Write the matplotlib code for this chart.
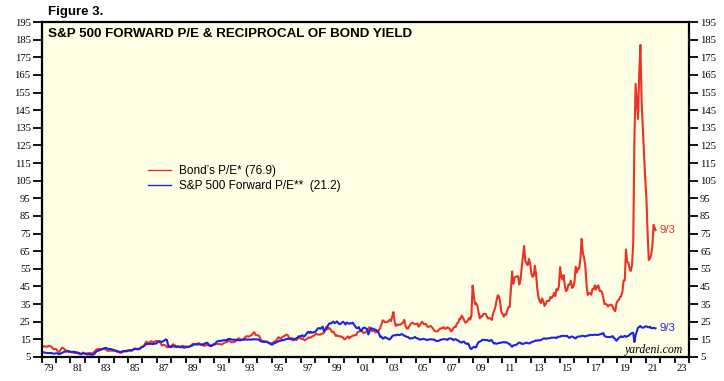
import matplotlib
matplotlib.use('Agg')
import matplotlib.pyplot as plt
import matplotlib.dates as mdates
import matplotlib.ticker as mticker
import pandas as pd
from datetime import datetime

# ---------------- data (monthly, Jan 1979 .. Aug 2021, plus 9/3/2021) ----------------
bond_pe = [
    11.0, 11.0, 11.0, 10.9, 10.8, 11.2, 11.2, 11.1, 10.7, 9.7, 9.4, 9.6,      # 1979
    9.3, 8.1, 7.6, 8.7, 9.8, 10.3, 9.8, 9.0, 8.7, 8.5, 7.9, 7.8,              # 1980
    8.0, 7.6, 7.6, 7.3, 7.1, 7.4, 7.0, 6.7, 6.5, 6.6, 7.5, 7.3,               # 1981
    6.9, 6.9, 7.2, 7.2, 7.3, 7.0, 7.2, 7.7, 8.1, 9.2, 9.5, 9.5,               # 1982
    9.6, 9.3, 9.5, 9.6, 9.6, 9.2, 8.8, 8.4, 8.6, 8.7, 8.6, 8.5,               # 1983
    8.6, 8.4, 8.1, 7.9, 7.5, 7.4, 7.5, 7.9, 8.0, 8.2, 8.6, 8.7,               # 1984
    8.8, 8.7, 8.4, 8.7, 9.2, 9.8, 9.7, 9.7, 9.6, 9.8, 10.2, 10.8,             # 1985
    10.9, 11.5, 12.9, 13.7, 13.0, 12.8, 13.7, 13.9, 13.4, 13.5, 13.8, 14.1,   # 1986
    14.1, 13.8, 13.8, 12.5, 11.6, 11.9, 11.8, 11.4, 10.6, 10.5, 11.3, 11.1,   # 1987
    11.5, 12.2, 11.9, 11.5, 11.0, 11.2, 11.0, 10.8, 11.1, 11.4, 11.2, 11.0,   # 1988
    11.0, 10.9, 10.7, 10.9, 11.3, 12.1, 12.5, 12.3, 12.2, 12.5, 12.7, 12.8,   # 1989
    12.2, 11.8, 11.6, 11.4, 11.4, 11.8, 11.8, 11.4, 11.2, 11.5, 11.9, 12.4,   # 1990
    12.4, 12.7, 12.3, 12.4, 12.4, 12.1, 12.1, 12.7, 13.1, 13.3, 13.5, 14.1,   # 1991
    14.2, 13.6, 13.3, 13.4, 13.5, 13.8, 14.6, 15.2, 15.6, 15.2, 14.6, 14.8,   # 1992
    15.2, 16.0, 16.7, 16.8, 16.6, 16.8, 17.2, 17.6, 18.7, 19.0, 17.5, 17.3,   # 1993
    17.4, 16.8, 15.4, 14.3, 13.9, 14.1, 13.7, 13.8, 13.4, 12.9, 12.6, 12.8,   # 1994
    12.9, 13.4, 13.9, 14.2, 15.1, 16.2, 15.9, 15.4, 16.1, 16.6, 16.9, 17.5,   # 1995
    17.7, 17.2, 15.9, 15.4, 14.8, 14.5, 14.6, 15.1, 14.6, 15.3, 16.1, 15.9,   # 1996
    15.2, 15.6, 14.9, 14.5, 14.9, 15.4, 16.1, 15.9, 16.1, 16.6, 17.0, 17.2,   # 1997
    18.1, 18.0, 17.7, 17.7, 17.7, 18.2, 18.3, 18.7, 20.8, 22.1, 20.7, 21.5,   # 1998
    21.2, 20.0, 19.1, 19.3, 18.1, 16.9, 17.3, 16.8, 16.9, 16.4, 16.6, 15.9,   # 1999
    15.0, 15.3, 16.0, 16.7, 15.5, 16.4, 16.5, 17.2, 17.2, 17.4, 17.5, 19.1,   # 2000
    19.4, 19.6, 20.4, 19.5, 18.6, 18.9, 19.1, 20.1, 21.1, 21.9, 21.5, 19.6,   # 2001
    19.8, 20.4, 18.9, 19.2, 19.4, 20.3, 21.5, 23.5, 25.8, 25.4, 24.7, 24.8,   # 2002
    24.7, 25.6, 26.2, 25.3, 28.0, 30.5, 25.1, 22.5, 23.4, 23.3, 23.3, 23.4,   # 2003
    24.1, 24.5, 26.1, 23.0, 21.2, 21.1, 22.2, 23.4, 24.2, 24.4, 23.9, 23.6,   # 2004
    23.7, 24.0, 22.2, 23.0, 24.2, 25.0, 23.9, 23.5, 23.8, 22.4, 22.0, 22.4,   # 2005
    22.6, 21.9, 21.2, 20.0, 19.6, 19.6, 19.6, 20.5, 21.2, 21.1, 21.7, 21.9,   # 2006
    21.0, 21.2, 21.9, 21.3, 21.1, 19.6, 20.0, 21.4, 22.1, 22.1, 24.1, 24.4,   # 2007
    26.7, 26.7, 28.5, 27.2, 25.8, 24.4, 24.9, 25.7, 27.1, 26.2, 28.3, 45.5,   # 2008
    39.7, 34.8, 35.5, 34.1, 30.4, 26.9, 28.1, 27.9, 29.4, 29.5, 29.4, 27.9,   # 2009
    26.8, 27.1, 26.8, 26.0, 29.2, 31.3, 33.2, 37.0, 40.0, 39.4, 36.2, 30.4,   # 2010
    29.5, 27.9, 29.3, 28.9, 31.5, 33.3, 33.3, 43.5, 53.5, 46.5, 49.8, 50.5,   # 2011
    50.8, 50.8, 46.1, 48.8, 55.6, 61.7, 68.0, 59.5, 58.1, 57.1, 60.6, 58.1,   # 2012
    52.4, 50.5, 51.0, 56.8, 51.8, 43.5, 38.8, 36.5, 35.6, 38.2, 36.8, 34.0,   # 2013
    35.0, 36.9, 36.8, 36.9, 39.1, 38.5, 39.4, 41.3, 39.5, 43.5, 42.9, 45.2,   # 2014
    56.0, 50.5, 49.0, 51.5, 45.5, 42.4, 43.1, 46.1, 46.1, 48.3, 44.2, 44.6,   # 2015
    47.8, 56.2, 52.9, 55.2, 55.2, 61.0, 72.0, 64.1, 61.3, 56.8, 46.7, 40.2,   # 2016
    41.2, 41.3, 40.3, 43.5, 43.5, 45.7, 43.1, 45.2, 45.5, 42.4, 42.6, 41.7,   # 2017
    38.8, 35.0, 35.2, 34.8, 33.6, 34.4, 34.6, 34.6, 33.3, 31.7, 31.0, 35.3,   # 2018
    36.9, 37.3, 38.9, 39.5, 41.7, 48.3, 48.5, 66.0, 58.8, 58.5, 55.2, 53.8,   # 2019
    57.0, 70.0, 127.0, 160.0, 150.0, 140.0, 165.0, 182.0, 150.0, 135.0, 120.0, 106.0,  # 2020
    95.0, 75.0, 60.0, 61.0, 63.0, 68.0, 80.0, 78.0, 76.9,                      # 2021
]

spx_fwd_pe = [
    7.8, 7.6, 7.5, 7.4, 7.3, 7.3, 7.2, 7.3, 7.2, 6.9, 7.0, 7.0,               # 1979
    7.1, 7.0, 6.6, 6.8, 7.2, 7.5, 7.9, 8.0, 8.1, 8.2, 8.4, 8.0,               # 1980
    7.9, 7.8, 8.0, 7.9, 7.7, 7.6, 7.4, 7.2, 6.8, 6.9, 7.1, 7.0,               # 1981
    6.8, 6.6, 6.4, 6.6, 6.5, 6.3, 6.3, 6.5, 7.2, 8.0, 8.5, 8.6,               # 1982
    8.9, 9.2, 9.4, 9.8, 10.0, 10.2, 9.9, 9.6, 9.6, 9.5, 9.3, 9.1,             # 1983
    9.0, 8.6, 8.5, 8.3, 8.0, 7.9, 7.8, 8.3, 8.4, 8.4, 8.3, 8.3,               # 1984
    8.6, 8.9, 8.8, 8.9, 9.2, 9.5, 9.6, 9.4, 9.3, 9.5, 10.0, 10.6,             # 1985
    10.8, 11.3, 12.0, 12.4, 12.3, 12.6, 12.3, 12.6, 12.3, 12.4, 12.6, 12.6,   # 1986
    13.2, 13.8, 14.0, 13.6, 13.6, 14.0, 14.4, 15.0, 14.6, 11.8, 10.8, 10.6,   # 1987
    10.8, 11.0, 11.0, 10.9, 10.6, 10.9, 10.8, 10.5, 10.6, 10.6, 10.3, 10.4,   # 1988
    10.5, 10.6, 10.7, 11.0, 11.3, 11.4, 11.9, 12.2, 12.2, 12.1, 12.1, 12.4,   # 1989
    12.0, 12.0, 12.3, 12.1, 12.9, 13.0, 13.0, 12.0, 11.5, 11.2, 11.6, 11.9,   # 1990
    12.1, 13.4, 13.8, 14.0, 14.2, 14.0, 14.4, 14.5, 14.5, 14.6, 14.2, 15.2,   # 1991
    15.3, 15.2, 14.8, 14.8, 14.9, 14.5, 14.8, 14.5, 14.6, 14.4, 14.7, 14.8,   # 1992
    14.8, 14.9, 15.1, 14.8, 14.9, 14.9, 14.8, 15.0, 15.0, 15.1, 15.0, 15.0,   # 1993
    15.0, 14.6, 14.0, 13.8, 13.7, 13.5, 13.6, 13.7, 13.4, 13.1, 12.6, 12.2,   # 1994
    12.0, 12.6, 13.0, 13.2, 13.6, 13.8, 14.3, 14.2, 14.6, 14.5, 14.8, 15.0,   # 1995
    15.2, 15.3, 15.3, 15.3, 15.6, 15.5, 14.9, 15.2, 15.7, 16.0, 16.8, 16.6,   # 1996
    17.0, 17.3, 16.6, 16.8, 17.8, 18.6, 19.4, 18.6, 19.3, 18.7, 19.0, 19.2,   # 1997
    19.3, 20.5, 21.2, 21.4, 21.0, 21.6, 22.2, 19.5, 20.0, 21.2, 22.5, 23.6,   # 1998
    24.2, 24.0, 24.6, 25.0, 24.2, 24.6, 25.2, 24.2, 23.6, 23.8, 24.6, 25.0,   # 1999
    24.3, 23.4, 24.6, 24.3, 23.8, 24.2, 24.0, 24.5, 23.5, 22.6, 21.5, 21.3,   # 2000
    22.0, 20.6, 19.6, 20.7, 21.6, 21.6, 21.2, 20.8, 17.8, 19.6, 21.0, 21.2,   # 2001
    21.0, 20.5, 20.6, 20.1, 19.5, 18.3, 16.3, 16.6, 15.4, 15.6, 16.3, 15.8,   # 2002
    15.6, 15.0, 15.0, 15.8, 16.8, 17.2, 17.4, 17.2, 17.7, 17.6, 17.4, 17.7,   # 2003
    18.0, 17.6, 17.0, 16.9, 16.4, 16.4, 15.8, 15.4, 15.7, 15.6, 16.0, 16.4,   # 2004
    15.7, 15.6, 15.2, 14.8, 15.1, 15.0, 15.4, 15.0, 15.0, 14.5, 14.9, 14.9,   # 2005
    15.1, 15.0, 14.9, 14.9, 14.3, 14.1, 14.0, 14.3, 14.6, 14.9, 15.0, 15.1,   # 2006
    15.1, 15.0, 14.7, 15.3, 15.6, 15.4, 15.3, 14.5, 15.0, 15.1, 14.5, 14.5,   # 2007
    13.7, 13.4, 13.1, 13.7, 13.7, 12.7, 12.5, 12.8, 11.8, 9.9, 9.5, 10.3,     # 2008
    10.8, 10.4, 10.5, 12.3, 13.4, 13.8, 14.0, 14.7, 14.8, 14.6, 14.6, 14.6,   # 2009
    14.3, 14.0, 14.5, 14.6, 13.4, 12.6, 12.8, 12.5, 12.7, 13.0, 13.0, 13.2,   # 2010
    13.3, 13.5, 13.2, 13.4, 13.1, 12.5, 12.4, 11.4, 10.8, 11.6, 11.7, 11.8,   # 2011
    12.2, 12.8, 13.2, 13.0, 12.4, 12.5, 12.6, 12.9, 13.2, 12.9, 12.7, 12.9,   # 2012
    13.4, 13.5, 13.9, 14.0, 14.5, 14.2, 14.6, 14.3, 14.6, 15.0, 15.4, 15.6,   # 2013
    15.3, 15.5, 15.6, 15.6, 15.8, 16.0, 15.9, 16.0, 16.0, 15.7, 16.4, 16.5,   # 2014
    16.5, 17.0, 16.9, 17.0, 17.0, 16.8, 17.0, 16.2, 15.8, 16.5, 16.6, 16.4,   # 2015
    15.8, 15.5, 16.3, 16.6, 16.6, 16.7, 17.0, 17.0, 16.9, 16.6, 16.9, 17.2,   # 2016
    17.2, 17.6, 17.5, 17.4, 17.6, 17.6, 17.6, 17.5, 17.6, 17.8, 18.0, 18.2,   # 2017
    18.6, 17.0, 16.6, 16.4, 16.3, 16.3, 16.3, 16.6, 16.8, 15.7, 15.2, 14.2,   # 2018
    15.0, 15.8, 16.3, 16.8, 16.2, 16.6, 17.0, 16.4, 16.8, 16.9, 17.7, 18.2,   # 2019
    18.6, 18.7, 13.5, 17.3, 19.5, 21.6, 22.0, 22.6, 21.8, 21.6, 21.8, 22.3,   # 2020
    22.4, 22.0, 21.8, 22.2, 21.3, 21.4, 21.5, 21.4, 21.2,                      # 2021
]

first_month = '1979-01-01'
last_date = '2021-09-03'
last_label = '9/3'
bond_label = 'Bond\u2019s P/E* (76.9)'
spx_label = 'S&P 500 Forward P/E**  (21.2)'
title = 'S&P 500 FORWARD P/E & RECIPROCAL OF BOND YIELD'
fig_label = 'Figure 3.'
source = 'yardeni.com'
y_ticks = list(range(5, 196, 10))
label_years = list(range(1979, 2024, 2))

RED = '#EC3226'
BLUE = '#1C22E8'
BG = '#FFFFE6'

# ---------------- figure ----------------
dates = pd.date_range(first_month, periods=len(bond_pe) - 1, freq='MS') + pd.Timedelta(days=14)
dates = dates.append(pd.DatetimeIndex([last_date]))

fig = plt.figure(figsize=(7.24, 3.81), dpi=100)
ax = fig.add_axes([41.7 / 724, 24 / 381, 647.3 / 724, 335 / 381])
ax.set_facecolor(BG)

l1, = ax.plot(dates, bond_pe, color=RED, lw=1.5, solid_joinstyle='round')
l2, = ax.plot(dates, spx_fwd_pe, color=BLUE, lw=1.5, solid_joinstyle='round')

ax.set_xlim(datetime(1979, 1, 1), datetime(2024, 1, 1))
ax.set_ylim(5, 195)

for s in ax.spines.values():
    s.set_linewidth(1.6)
    s.set_color('black')

# y axis both sides
ax.yaxis.set_major_locator(mticker.FixedLocator(y_ticks))
ax.tick_params(axis='y', which='major', direction='out', length=6.5, width=1.3,
               left=True, right=True, labelleft=True, labelright=True, pad=1.5,
               labelsize=7.7, colors='black')
for lab in ax.get_yticklabels():
    lab.set_fontfamily('Liberation Serif')

# x axis: ticks each Jan 1, labels mid-year of odd years
ax.xaxis.set_major_locator(mdates.YearLocator(1))
ax.xaxis.set_major_formatter(mticker.NullFormatter())
ax.xaxis.set_minor_locator(mticker.FixedLocator(
    [mdates.date2num(datetime(y, 7, 1)) for y in label_years]))
ax.xaxis.set_minor_formatter(mdates.DateFormatter('%y'))
ax.tick_params(axis='x', which='major', direction='out', length=4.5, width=1.3)
ax.tick_params(axis='x', which='minor', length=0, pad=5, labelsize=7.7)
for lab in ax.get_xticklabels(minor=True):
    lab.set_fontfamily('Liberation Serif')

# texts
ax.text(0.0097, 0.956, title, transform=ax.transAxes, fontsize=9.6,
        fontweight='bold', family='Liberation Sans', va='baseline', ha='left')
fig.text(48 / 724, 1 - 15 / 381, fig_label, fontsize=9.5, fontweight='bold',
         family='Liberation Sans', va='baseline', ha='left')
ax.text(0.9907, 0.012, source, transform=ax.transAxes, fontsize=8.5,
        style='italic', family='Liberation Serif', va='baseline', ha='right')

ax.annotate(last_label, (dates[-1], bond_pe[-1]), xytext=(3, 0),
            textcoords='offset points', color=RED, fontsize=8.2,
            family='Liberation Sans', va='center', ha='left')
ax.annotate(last_label, (dates[-1], spx_fwd_pe[-1]), xytext=(3, 0),
            textcoords='offset points', color=BLUE, fontsize=8.2,
            family='Liberation Sans', va='center', ha='left')

leg = ax.legend([l1, l2], [bond_label, spx_label], loc='upper left',
                bbox_to_anchor=(0.164, 0.572), frameon=False,
                prop={'family': 'Liberation Sans', 'size': 8.5},
                handlelength=2.0, handletextpad=0.6, labelspacing=0.22,
                borderpad=0, borderaxespad=0)
for h in leg.get_lines():
    h.set_linewidth(1.0)

fig.savefig('out.png', dpi=100)
